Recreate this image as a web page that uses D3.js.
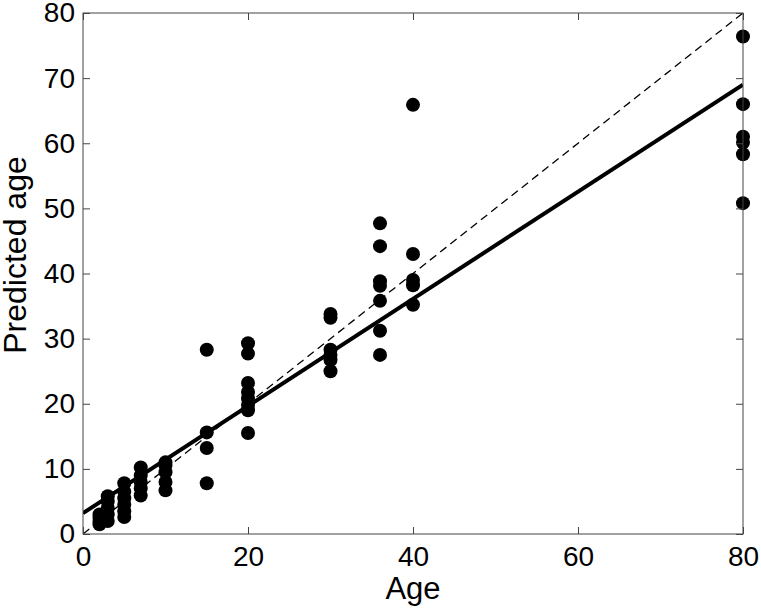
<!DOCTYPE html>
<html><head><meta charset="utf-8">
<script src="https://cdn.jsdelivr.net/npm/d3@7"></script>
<style>body{margin:0;background:#fff}svg{display:block}text{font-family:"Liberation Sans",Arial,sans-serif;fill:#000}</style>
</head><body><svg id="c" width="761" height="609"></svg>
<script>
// Data: true age groups and predicted ages
const ages = [2, 3, 5, 7, 10, 15, 20, 30, 36, 40, 80];
const predicted = [
  [1.5, 2.0, 2.5, 3.0],
  [2.0, 3.0, 4.0, 5.0, 5.8],
  [2.6, 3.5, 4.5, 5.5, 6.5, 7.8],
  [5.9, 7.0, 8.0, 9.0, 10.2],
  [6.7, 8.0, 9.5, 10.5, 11.0],
  [7.8, 13.2, 15.6, 28.3],
  [15.5, 19.0, 19.8, 20.8, 21.8, 23.2, 27.7, 29.3],
  [25.0, 26.7, 27.5, 28.3, 33.2, 33.8],
  [27.5, 31.2, 35.8, 38.1, 38.8, 44.2, 47.7],
  [35.2, 38.2, 39.0, 43.0, 65.9],
  [50.8, 58.3, 60.1, 61.0, 66.0, 76.4]
];
const fitLine = [[0, 3.2], [80, 69.0]];
const identityLine = [[0, 0], [80, 80]];
const xTicks = [0, 20, 40, 60, 80];
const yTicks = [0, 10, 20, 30, 40, 50, 60, 70, 80];

const points = [];
ages.forEach((a, i) => predicted[i].forEach(p => points.push([a, p])));

const svg = d3.select("#c");
const L = 83, R = 743, T = 13, B = 534;
const x = d3.scaleLinear().domain([0, 80]).range([L, R]);
const y = d3.scaleLinear().domain([0, 80]).range([B, T]);

const defs = svg.append("defs");
defs.append("clipPath").attr("id", "clip").append("rect")
  .attr("x", L).attr("y", T).attr("width", R - L).attr("height", B - T);

const plot = svg.append("g").attr("clip-path", "url(#clip)");
const line = d3.line().x(d => x(d[0])).y(d => y(d[1]));
plot.append("path").datum(identityLine).attr("d", line)
  .attr("fill", "none").attr("stroke", "#000").attr("stroke-width", 1.3).attr("stroke-dasharray", "8,5");
plot.append("path").datum(fitLine).attr("d", line)
  .attr("fill", "none").attr("stroke", "#000").attr("stroke-width", 4);

svg.append("g").selectAll("circle").data(points).join("circle")
  .attr("cx", d => x(d[0])).attr("cy", d => y(d[1])).attr("r", 7).attr("fill", "#000");

// Frame and ticks (inward, all sides)
const axisColor = "#444";
function styleAxis(g) {
  g.select(".domain").remove();
  g.selectAll(".tick line").attr("stroke", axisColor);
  g.selectAll(".tick text").style("font-size", "28px");
}
svg.append("g").attr("transform", `translate(0,${B})`)
  .call(d3.axisBottom(x).tickValues(xTicks).tickSizeInner(-7).tickSizeOuter(0).tickPadding(12).tickFormat(d3.format("d")))
  .call(styleAxis);
svg.append("g").attr("transform", `translate(0,${T})`)
  .call(d3.axisTop(x).tickValues(xTicks).tickSizeInner(-7).tickSizeOuter(0).tickFormat(""))
  .call(styleAxis);
svg.append("g").attr("transform", `translate(${L},0)`)
  .call(d3.axisLeft(y).tickValues(yTicks).tickSizeInner(-7).tickSizeOuter(0).tickPadding(8).tickFormat(d3.format("d")))
  .call(styleAxis);
svg.append("g").attr("transform", `translate(${R},0)`)
  .call(d3.axisRight(y).tickValues(yTicks).tickSizeInner(-7).tickSizeOuter(0).tickFormat(""))
  .call(styleAxis);
svg.selectAll("g text").attr("fill", "#000").attr("font-family", null);

svg.append("rect").attr("x", L).attr("y", T).attr("width", R - L).attr("height", B - T)
  .attr("fill", "none").attr("stroke", axisColor).attr("stroke-width", 1);

svg.append("text").attr("x", (L + R) / 2).attr("y", 599).attr("text-anchor", "middle")
  .style("font-size", "31px").text("Age");
svg.append("text").attr("transform", `translate(26,255) rotate(-90)`).attr("text-anchor", "middle")
  .style("font-size", "32px").text("Predicted age");
</script></body></html>
